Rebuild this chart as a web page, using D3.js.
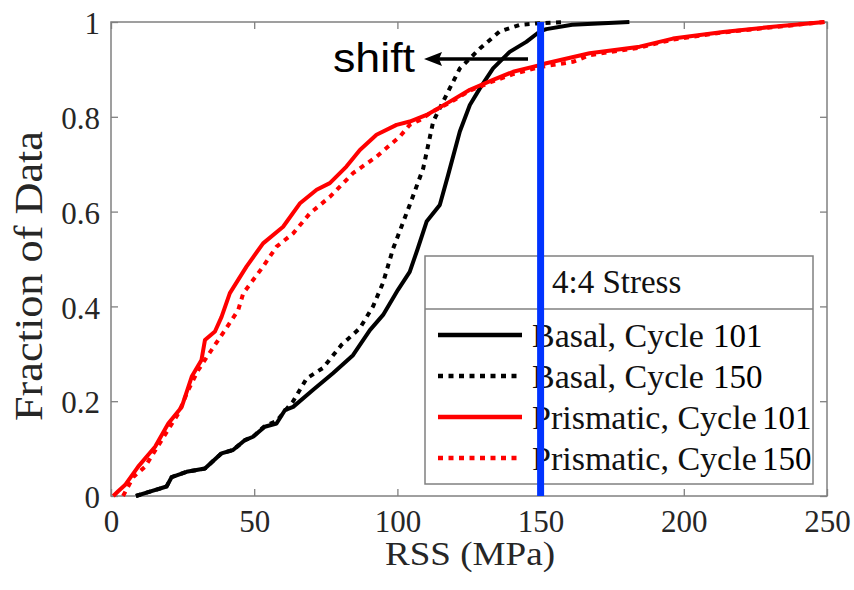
<!DOCTYPE html>
<html lang="en">
<head>
<meta charset="utf-8">
<title>RSS cumulative distribution</title>
<script src="https://d3js.org/d3.v7.min.js"></script>
<style>
  body { margin: 0; background: #fff; }
  svg text { font-family: "Liberation Serif", "Times New Roman", serif; }
  .tick text { fill: #262626; font-size: 31px; }
  .tick line { stroke: #808080; stroke-width: 1.3; }
</style>
</head>
<body>
<svg width="854" height="590"></svg>
<script>
// values: [RSS (MPa), fraction]
var basal101 = [[8.7,0],[13,0.008],[19.4,0.02],[21.2,0.04],[26.4,0.051],[32.8,0.058],[38.6,0.09],[42.6,0.097],[46.8,0.118],[49.6,0.125],
  [53.7,0.146],[57.8,0.153],[60.7,0.181],[63.6,0.188],[70.6,0.224],[77.5,0.259],[84.5,0.297],[90.4,0.35],[95,0.382],[100.2,0.435],
  [104.3,0.473],[107,0.52],[110.2,0.579],[114.8,0.614],[117.7,0.677],[121.8,0.769],[125.3,0.825],[128.8,0.86],[133.4,0.902],
  [139.2,0.937],[145,0.958],[149.7,0.98],[152,0.985],[161,0.994],[170,0.997],[181,1.0]];
var basal150 = [[8.7,0],[13,0.008],[19.4,0.02],[21.2,0.04],[26.4,0.051],[32.8,0.058],[38.6,0.09],[42.6,0.097],[46.8,0.118],[49.6,0.125],
  [53.7,0.148],[57.8,0.158],[63.6,0.2],[68.3,0.248],[74,0.27],[80.5,0.319],[86.9,0.354],[91.5,0.4],[95,0.45],[98.5,0.522],
  [104.3,0.614],[109,0.691],[112.5,0.79],[117.1,0.846],[121.8,0.902],[128.8,0.944],[135.7,0.98],[142.7,0.994],[148.5,0.997],[158,1.0]];
var prism101 = [[0.8,0],[2.5,0.01],[4.9,0.023],[9.5,0.062],[15.4,0.104],[20,0.153],[24.7,0.188],[28.2,0.252],[31.6,0.287],[32.8,0.329],
  [36.3,0.347],[38.6,0.378],[41.5,0.428],[47.3,0.484],[53.1,0.533],[60.1,0.568],[65.9,0.617],[71.8,0.646],[76.4,0.66],[82.2,0.695],
  [86.9,0.73],[92.7,0.762],[99.7,0.783],[104.3,0.79],[110.2,0.804],[118.3,0.832],[125.3,0.857],[133.4,0.878],[140.4,0.895],
  [149.7,0.909],[152,0.913],[167.1,0.934],[184.6,0.948],[196.2,0.965],[213.7,0.979],[231.1,0.99],[249.1,1.0]];
var prism150 = [[4.2,0],[7.8,0.04],[11.9,0.062],[17.7,0.118],[23.5,0.174],[27,0.224],[30.5,0.266],[35.1,0.308],[39.8,0.35],[44.4,0.392],
  [46.2,0.428],[53.1,0.484],[57.8,0.526],[63.6,0.554],[69.4,0.596],[76.4,0.631],[84.5,0.681],[92.7,0.716],[100.8,0.758],[104.3,0.783],
  [107.8,0.793],[112,0.81],[118.3,0.83],[125.3,0.855],[133.4,0.875],[140.4,0.89],[149.7,0.905],[161.3,0.916],[167.1,0.93],
  [184.6,0.946],[196.2,0.963],[213.7,0.978],[231.1,0.989],[249.1,1.0]];

var xTicks = [0, 50, 100, 150, 200, 250];
var yTicks = [0, 0.2, 0.4, 0.6, 0.8, 1];
var yTickLabels = ["0", "0.2", "0.4", "0.6", "0.8", "1"];
var seriesNames = ["Basal, Cycle", "Basal, Cycle", "Prismatic, Cycle", "Prismatic, Cycle"];
var seriesCycles = ["101", "150", "101", "150"];
var markerRSS = 150;

var svg = d3.select("svg");
var pL = 111, pT = 22, pR = 827, pB = 496;

var x = d3.scaleLinear().domain([0, 250]).range([pL, pR]);
var y = d3.scaleLinear().domain([0, 1]).range([pB, pT]);

// axes, ticks pointing inward (matlab style)
svg.append("g").attr("transform", "translate(0," + pB + ")")
  .call(d3.axisBottom(x).tickValues(xTicks).tickSize(-7).tickPadding(14).tickFormat(d3.format("d")))
  .call(g => g.select(".domain").remove());
svg.append("g").attr("transform", "translate(0," + pT + ")")
  .call(d3.axisTop(x).tickValues(xTicks).tickSize(-7).tickFormat(""))
  .call(g => g.select(".domain").remove());
svg.append("g").attr("transform", "translate(" + pL + ",0)")
  .call(d3.axisLeft(y).tickValues(yTicks).tickSize(-7).tickPadding(11).tickFormat((d, i) => yTickLabels[i]))
  .call(g => g.select(".domain").remove())
  .selectAll("text").attr("dy", "0.38em");
svg.append("g").attr("transform", "translate(" + pR + ",0)")
  .call(d3.axisRight(y).tickValues(yTicks).tickSize(-7).tickFormat(""))
  .call(g => g.select(".domain").remove());

svg.append("rect")
  .attr("x", pL).attr("y", pT).attr("width", pR - pL).attr("height", pB - pT)
  .attr("fill", "none").attr("stroke", "#808080").attr("stroke-width", 1.5);

// axis titles
svg.append("text")
  .attr("x", 470).attr("y", 565)
  .attr("text-anchor", "middle").attr("font-size", 33).attr("fill", "#262626")
  .attr("textLength", 170).attr("lengthAdjust", "spacingAndGlyphs")
  .text("RSS (MPa)");
svg.append("text")
  .attr("transform", "translate(42,276) rotate(-90)")
  .attr("text-anchor", "middle").attr("font-size", 41).attr("fill", "#262626")
  .attr("textLength", 290).attr("lengthAdjust", "spacingAndGlyphs")
  .text("Fraction of Data");

var line = d3.line().x(d => x(d[0])).y(d => y(d[1]));
var series = [
  {data: basal101, color: "#000", dash: null},
  {data: basal150, color: "#000", dash: "5,5.5"},
  {data: prism101, color: "#ff0000", dash: null},
  {data: prism150, color: "#ff0000", dash: "5,5.5"}
];

series.forEach(function(s) {
  svg.append("path")
    .datum(s.data)
    .attr("d", line)
    .attr("fill", "none")
    .attr("stroke", s.color)
    .attr("stroke-width", 4)
    .attr("stroke-linejoin", "round")
    .attr("stroke-dasharray", s.dash);
});

// legend
var lg = svg.append("g");
lg.append("rect").attr("x", 425).attr("y", 256).attr("width", 388).attr("height", 228)
  .attr("fill", "#fff").attr("stroke", "#808080").attr("stroke-width", 1.5);
lg.append("line").attr("x1", 425).attr("x2", 813).attr("y1", 309).attr("y2", 309)
  .attr("stroke", "#808080").attr("stroke-width", 1.5);
lg.append("text").attr("x", 552).attr("y", 293).attr("font-size", 33).attr("fill", "#111")
  .text("4:4 Stress");

var rowLineY = [335, 376, 417, 458];
var rowTextY = [347, 388, 429, 470];
var numX = [713, 713, 762, 762];
series.forEach(function(s, i) {
  lg.append("line")
    .attr("x1", 438).attr("x2", 522).attr("y1", rowLineY[i]).attr("y2", rowLineY[i])
    .attr("stroke", s.color).attr("stroke-width", 4.5)
    .attr("stroke-dasharray", s.dash);
  lg.append("text").attr("x", 532).attr("y", rowTextY[i]).attr("font-size", 34).attr("fill", "#111")
    .text(seriesNames[i]);
  lg.append("text").attr("x", numX[i]).attr("y", rowTextY[i]).attr("font-size", 33).attr("fill", "#000")
    .text(seriesCycles[i]);
});

// vertical marker at 150 MPa
svg.append("line")
  .attr("x1", x(markerRSS)).attr("x2", x(markerRSS)).attr("y1", pT).attr("y2", pB)
  .attr("stroke", "#0033ff").attr("stroke-width", 7);

// shift arrow + label
var ay = 59;
svg.append("line").attr("x1", 528).attr("x2", 436).attr("y1", ay).attr("y2", ay)
  .attr("stroke", "#000").attr("stroke-width", 3.5);
svg.append("path")
  .attr("d", "M424," + ay + "L442," + (ay - 7) + "L439," + ay + "L442," + (ay + 7) + "Z")
  .attr("fill", "#000");
svg.append("text").attr("x", 333).attr("y", 72)
  .style("font-family", "'Liberation Sans', 'Noto Sans', sans-serif")
  .attr("font-size", 40).attr("fill", "#000")
  .attr("textLength", 82).attr("lengthAdjust", "spacingAndGlyphs")
  .text("shift");
</script>
</body>
</html>
